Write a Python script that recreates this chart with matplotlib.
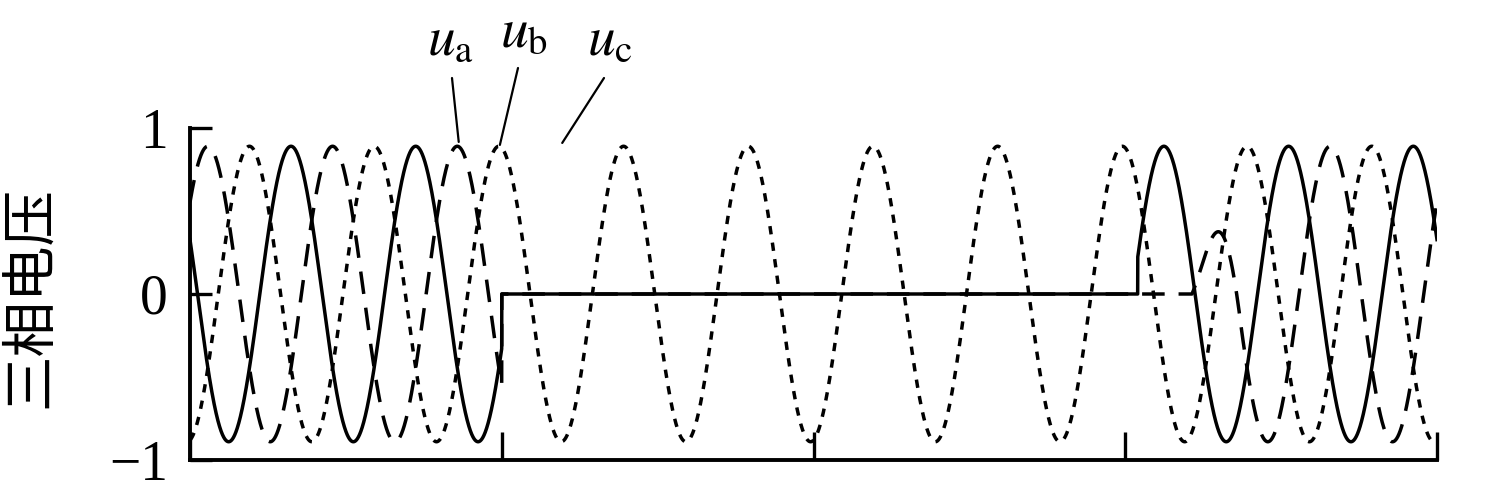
import numpy as np
import matplotlib.pyplot as plt

plt.rcParams['mathtext.fontset'] = 'stix'

# 三相电压波形参数
t_start, t_stop = 0.0, 0.2          # s
freq = 50.0                         # Hz
amplitude = 0.89
phase_deg = [68.4, -51.6, 188.4]    # ua, ub, uc 余弦相位
fault_on = 0.05                     # a、b 相跌落为 0
restore_a = 0.152                   # a 相恢复
restore_b = 0.1607                  # b 相开始恢复
ramp_b = 0.008                      # b 相恢复过渡时间

x_ticks = [0.0, 0.05, 0.10, 0.15, 0.20]
y_ticks = [-1, 0, 1]
y_tick_labels = ['\u22121', '0', '1']
y_label = '三相电压'
phase_names = [r'$u_{\mathrm{a}}$', r'$u_{\mathrm{b}}$', r'$u_{\mathrm{c}}$']


def main():
    # 1) 波形
    t = np.linspace(t_start, t_stop, 20001)
    w = 2 * np.pi * freq
    ua = amplitude * np.cos(w * t + np.deg2rad(phase_deg[0]))
    ub = amplitude * np.cos(w * t + np.deg2rad(phase_deg[1]))
    uc = amplitude * np.cos(w * t + np.deg2rad(phase_deg[2]))
    ua[(t >= fault_on) & (t < restore_a)] = 0.0
    env_b = np.where(t < fault_on, 1.0, np.clip((t - restore_b) / ramp_b, 0, 1))
    ub = ub * env_b

    # 2) 画布
    fig = plt.figure(figsize=(14.87, 4.96), dpi=100)
    ax = fig.add_axes([190 / 1487, 36 / 496, 1247 / 1487, 332 / 496])

    ax.plot(t, ub, color='black', lw=2.5, linestyle=(0, (6.5, 4)))
    ax.plot(t, uc, color='black', lw=2.5, linestyle=(0, (2.4, 2.4)))
    ax.plot(t, ua, color='black', lw=2.5, linestyle='-')

    ax.set_xlim(t_start, t_stop)
    ax.set_ylim(-1, 1)
    for s in ['top', 'right']:
        ax.spines[s].set_visible(False)
    for s in ['left', 'bottom']:
        ax.spines[s].set_linewidth(2.8)

    ax.set_xticks(x_ticks)
    ax.tick_params(axis='x', direction='in', length=20, width=2.4, labelbottom=False)
    ax.set_yticks(y_ticks)
    ax.set_yticklabels(y_tick_labels, family='Liberation Serif', fontsize=40)
    ax.tick_params(axis='y', direction='in', length=16, width=2.4, pad=16)

    fig.text(30 / 1487, 1 - 297 / 496, y_label, rotation=90, ha='center', va='center',
             fontsize=40, family=['Noto Sans CJK SC', 'DejaVu Sans'])

    # 3) 相标注与引线
    label_pos = [(427, 441), (500, 449), (587, 441)]
    line_start = [(452, 418), (518, 428), (604, 418)]
    line_end = [(0.0431, 0.916), (0.0497, 0.898), (0.0597, 0.91)]
    for name, lp, ls, le in zip(phase_names, label_pos, line_start, line_end):
        fig.text(lp[0] / 1487, lp[1] / 496, name, fontsize=40, ha='left', va='baseline')
        ax.annotate('', xy=le, xycoords='data', xytext=ls, textcoords='figure pixels',
                    arrowprops=dict(arrowstyle='-', lw=1.6, color='black',
                                    shrinkA=0, shrinkB=0), annotation_clip=False)

    fig.savefig('out.png', dpi=100)
    plt.close(fig)


if __name__ == '__main__':
    main()
